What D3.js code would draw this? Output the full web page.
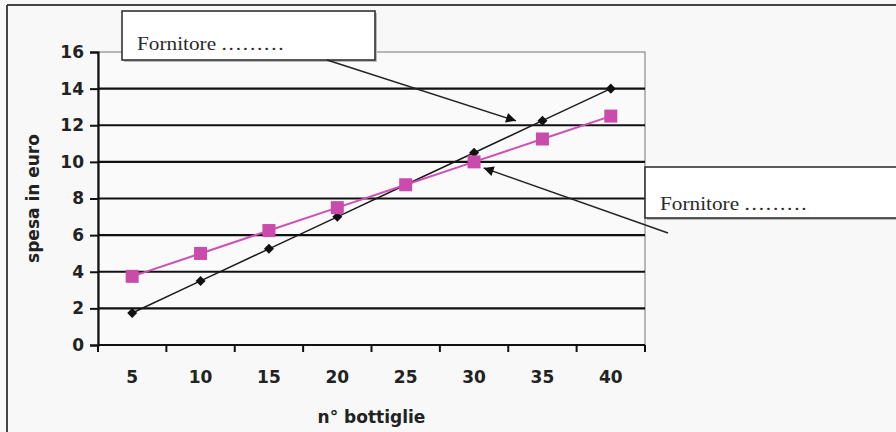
<!DOCTYPE html>
<html><head><meta charset="utf-8">
<script src="https://cdn.jsdelivr.net/npm/d3@7"></script>
<style>
html,body{margin:0;padding:0;background:#f8f8f8;}
svg{display:block;}
</style></head>
<body>
<svg id="c" width="896" height="432"></svg>
<script>
// ---- data ----
const categories = [5, 10, 15, 20, 25, 30, 35, 40];
const fornitoreA = [1.75, 3.5, 5.25, 7, 8.75, 10.5, 12.25, 14];   // black diamonds
const fornitoreB = [3.75, 5, 6.25, 7.5, 8.75, 10, 11.25, 12.5];   // pink squares
const yTicks = [0, 2, 4, 6, 8, 10, 12, 14, 16];
const xTitle = "n° bottiglie";
const yTitle = "spesa in euro";
const calloutName = "Fornitore";
const calloutDots = ".........";
// annotation arrow tips in data units (bottles, euro)
const arrowTips = [{b: 33.07, e: 12.24}, {b: 30.7, e: 9.67}];

// ---- layout ----
const svg = d3.select("#c");
const L = 98, R = 645, T = 52, B = 345;
const x = d3.scaleBand().domain(categories).range([L, R]).paddingInner(0).paddingOuter(0);
const y = d3.scaleLinear().domain([0, 16]).range([B, T]);
const xc = d => x(d) + x.bandwidth() / 2;
const xLin = d3.scaleLinear().domain([categories[0], categories[categories.length - 1]])
  .range([xc(categories[0]), xc(categories[categories.length - 1])]);

// outer frame (top and left)
svg.append("line").attr("x1", 7).attr("x2", 896).attr("y1", 5).attr("y2", 5)
  .attr("stroke", "#444").attr("stroke-width", 2);
svg.append("line").attr("x1", 7).attr("x2", 7).attr("y1", 5).attr("y2", 432)
  .attr("stroke", "#444").attr("stroke-width", 2);

// plot area
svg.append("rect").attr("x", L).attr("y", T).attr("width", R - L).attr("height", B - T)
  .attr("fill", "#fafafa").attr("stroke", "#8a8a8a").attr("stroke-width", 1.2);

// gridlines
svg.append("g").selectAll("line").data(yTicks.filter(v => v > 0 && v < 16)).join("line")
  .attr("x1", L).attr("x2", R).attr("y1", d => y(d)).attr("y2", d => y(d))
  .attr("stroke", "#111").attr("stroke-width", 2.2);

// y axis
const yAxis = d3.axisLeft(y).tickValues(yTicks).tickSize(8).tickPadding(6).tickFormat(d3.format("d"));
const gy = svg.append("g").attr("transform", `translate(${L},0)`).call(yAxis);
gy.select(".domain").attr("stroke", "#111").attr("stroke-width", 2.2);
gy.selectAll(".tick line").attr("stroke", "#111").attr("stroke-width", 2);
gy.selectAll("text").attr("font-family", "DejaVu Sans").attr("font-weight", "bold")
  .attr("font-size", 17).attr("fill", "#222");

// x axis: ticks at category boundaries, labels centred
svg.append("line").attr("x1", L).attr("x2", R).attr("y1", B).attr("y2", B)
  .attr("stroke", "#111").attr("stroke-width", 2.2);
const bounds = categories.map(c => x(c)).concat([R]);
svg.append("g").selectAll("line").data(bounds).join("line")
  .attr("x1", d => d).attr("x2", d => d).attr("y1", B).attr("y2", B + 7)
  .attr("stroke", "#111").attr("stroke-width", 2);
svg.append("g").selectAll("text").data(categories).join("text")
  .attr("x", d => xc(d)).attr("y", 383).attr("text-anchor", "middle")
  .attr("font-family", "DejaVu Sans").attr("font-weight", "bold").attr("font-size", 17)
  .attr("fill", "#222").text(d => d);

// axis titles
svg.append("text").attr("x", (L + R) / 2).attr("y", 423).attr("text-anchor", "middle")
  .attr("font-family", "DejaVu Sans").attr("font-weight", "bold").attr("font-size", 17)
  .attr("fill", "#222").text(xTitle);
svg.append("text").attr("transform", `translate(39,${(T + B) / 2}) rotate(-90)`)
  .attr("text-anchor", "middle")
  .attr("font-family", "DejaVu Sans").attr("font-weight", "bold").attr("font-size", 17)
  .attr("fill", "#222").text(yTitle);

// series
const line = d3.line().x((d, i) => xc(categories[i])).y(d => y(d));
svg.append("path").datum(fornitoreA).attr("d", line).attr("fill", "none")
  .attr("stroke", "#1a1a1a").attr("stroke-width", 1.5);
svg.append("path").datum(fornitoreB).attr("d", line).attr("fill", "none")
  .attr("stroke", "#d04fb4").attr("stroke-width", 2);

svg.append("g").selectAll("path").data(fornitoreA).join("path")
  .attr("d", d3.symbol(d3.symbolDiamond2, 64))
  .attr("transform", (d, i) => `translate(${xc(categories[i])},${y(d)})`)
  .attr("fill", "#111");
svg.append("g").selectAll("rect").data(fornitoreB).join("rect")
  .attr("x", (d, i) => xc(categories[i]) - 6.5).attr("y", d => y(d) - 6.5)
  .attr("width", 13).attr("height", 13).attr("fill", "#c94bac");

// arrowhead marker
svg.append("defs").append("marker").attr("id", "ah").attr("viewBox", "0 0 10 10")
  .attr("refX", 10).attr("refY", 5).attr("markerWidth", 11).attr("markerHeight", 10)
  .attr("markerUnits", "userSpaceOnUse").attr("orient", "auto")
  .append("path").attr("d", "M0,0 L10,5 L0,10 z").attr("fill", "#111");

// callout boxes
function callout(bx, by, bw, bh, tx, ty) {
  const g = svg.append("g");
  g.append("rect").attr("x", bx + 2).attr("y", by + 2).attr("width", bw).attr("height", bh)
    .attr("fill", "#bbb");
  g.append("rect").attr("x", bx).attr("y", by).attr("width", bw).attr("height", bh)
    .attr("fill", "#fff").attr("stroke", "#333").attr("stroke-width", 1.6);
  const t = g.append("text").attr("transform", `translate(${tx},${ty}) scale(1.12,1)`)
    .attr("font-family", "Liberation Serif").attr("font-size", 19).attr("fill", "#2a2a2a");
  t.append("tspan").text(calloutName + " ");
  t.append("tspan").attr("letter-spacing", 1.6).text(calloutDots);
}
callout(122, 11, 253, 49, 137, 50);
callout(645, 167, 252, 51, 660, 210);

// arrows
const arrows = [
  {x1: 327, y1: 60, tip: arrowTips[0]},
  {x1: 668, y1: 233, tip: arrowTips[1]}
];
svg.append("g").selectAll("line").data(arrows).join("line")
  .attr("x1", d => d.x1).attr("y1", d => d.y1)
  .attr("x2", d => xLin(d.tip.b)).attr("y2", d => y(d.tip.e))
  .attr("stroke", "#222").attr("stroke-width", 1.4).attr("marker-end", "url(#ah)");
</script>
</body></html>
